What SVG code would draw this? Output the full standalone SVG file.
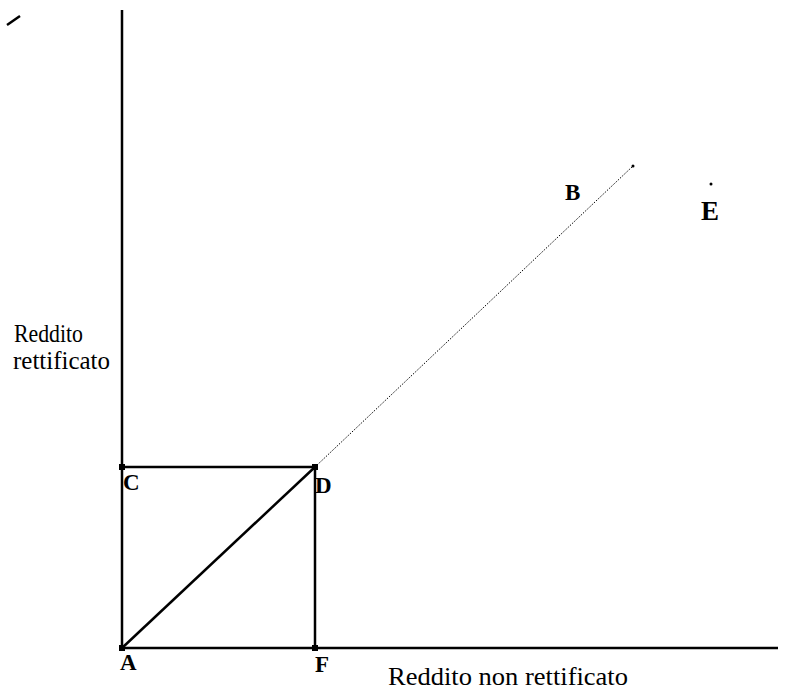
<svg xmlns="http://www.w3.org/2000/svg" width="790" height="693" viewBox="0 0 790 693">
<style>
.ax{stroke:#000;stroke-width:2.5;fill:none}
.pt{font-family:'Liberation Serif','Times New Roman',Times,'DejaVu Serif',serif;font-weight:bold;font-size:23px;fill:#000}
.lb{font-family:'Liberation Serif','Times New Roman',Times,'DejaVu Serif',serif;font-size:26px;fill:#000}
</style>
<rect width="790" height="693" fill="#fff"/>
<g id="mark"><line x1="7" y1="25" x2="20" y2="16" class="ax" stroke-width="3"/></g>
<g id="connectors">
<line x1="122" y1="10" x2="122" y2="648" class="ax"/>
<line x1="122" y1="648" x2="778" y2="648" class="ax"/>
<line x1="122" y1="467" x2="315" y2="467" class="ax"/>
<line x1="315" y1="467" x2="315" y2="648" class="ax"/>
<line x1="122" y1="648" x2="315" y2="467" class="ax" stroke-width="3.5"/>
<line x1="315" y1="467" x2="633" y2="166" stroke="#000" stroke-width="1" stroke-dasharray="1.5,1.5"/>
</g>
<g id="A"><rect x="119" y="645" width="6" height="6"/><text x="120" y="670" class="pt">A</text></g>
<g id="F"><rect x="312" y="645" width="6" height="6"/><text x="315" y="672" class="pt">F</text></g>
<g id="C"><rect x="119" y="464" width="6" height="6"/><text x="123" y="490" class="pt">C</text></g>
<g id="D"><rect x="312" y="464" width="6" height="6"/><text x="315" y="493" class="pt">D</text></g>
<g id="B"><circle cx="633" cy="166" r="1.5"/><text x="565" y="200" class="pt">B</text></g>
<g id="E"><circle cx="711" cy="184" r="1.5"/><text x="701" y="220" class="pt" style="font-size:27px">E</text></g>
<g id="ylabel"><text x="14" y="342" class="lb" textLength="69" lengthAdjust="spacingAndGlyphs">Reddito</text><text x="13" y="369" class="lb" textLength="97" lengthAdjust="spacingAndGlyphs">rettificato</text></g>
<g id="xlabel"><text x="388" y="685" class="lb" textLength="240" lengthAdjust="spacingAndGlyphs">Reddito non rettificato</text></g>
</svg>
